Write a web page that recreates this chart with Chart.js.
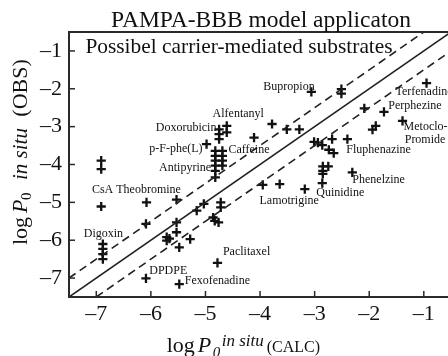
<!DOCTYPE html>
<html>
<head>
<meta charset="utf-8">
<script src="https://cdn.jsdelivr.net/npm/chart.js@4/dist/chart.umd.min.js"></script>
<style>
html,body{margin:0;padding:0;background:#fff;overflow:hidden;width:448px;height:356px;}
#wrap{width:458px;height:356px;}
</style>
</head>
<body>
<div id="wrap"><canvas id="c" width="458" height="356"></canvas></div>
<script>
// ---- data ----
const calcX = [-3.06,-2.51,-2.51,-0.95,-2.09,-1.73,-1.39,-1.94,-1.88,-3.78,-3.51,-3.28,-4.11,
  -3.01,-2.94,-2.86,-2.74,-2.65,-2.68,-2.40,-2.31,-2.85,-2.75,-2.85,-2.85,-2.86,-3.18,-3.64,-3.95,
  -4.61,-4.61,-4.75,-4.75,-4.75,-4.98,
  -4.82,-4.82,-4.82,-4.82,-4.82,-4.82,-4.69,-4.69,-4.69,-4.69,
  -6.91,-6.91,-6.91,-6.08,-5.53,-6.09,-5.53,-5.53,-5.16,-5.03,-4.72,-4.72,-4.86,-4.83,-4.76,
  -5.71,-5.71,-5.66,-5.48,-5.28,-6.88,-6.88,-6.88,-6.88,-6.09,-5.48,-4.78];
const obsY = [-2.08,-2.01,-2.13,-1.85,-2.52,-2.61,-2.85,-3.08,-2.98,-2.93,-3.07,-3.07,-3.29,
  -3.40,-3.42,-3.49,-3.61,-3.70,-3.33,-3.33,-4.21,-4.05,-4.05,-4.17,-4.25,-4.49,-4.65,-4.52,-4.54,
  -2.98,-3.15,-3.07,-3.20,-3.33,-3.46,
  -3.64,-3.77,-3.90,-4.03,-4.17,-4.34,-3.64,-3.77,-3.90,-4.03,
  -3.90,-4.12,-5.11,-5.00,-4.93,-5.57,-5.53,-5.79,-5.22,-5.04,-5.00,-5.13,-5.40,-5.49,-5.53,
  -5.92,-6.01,-5.96,-6.19,-5.97,-6.10,-6.23,-6.37,-6.50,-7.01,-7.16,-6.60];
// reference lines: identity and +/-0.5 log unit
const identX = [-7.5,-0.5], identY = [-7.5,-0.5];
const upperX = [-7.5,-1.0], upperY = [-7.0,-0.5];
const lowerX = [-7.0,-0.5], lowerY = [-7.5,-1.0];
const tickValues = [-7,-6,-5,-4,-3,-2,-1];
const tickLabels = ['\u20137','\u20136','\u20135','\u20134','\u20133','\u20132','\u20131'];
const labelText = ['Bupropion','Terfenadine','Perphezine','Metoclo-','Promide','Fluphenazine','Phenelzine',
  'Quinidine','Lamotrigine','Alfentanyl','Doxorubicin','p-F-phe(L)','Caffeine','Antipyrine',
  'CsA Theobromine','Digoxin','Paclitaxel','DPDPE','Fexofenadine'];
const labelX = [-3.94,-1.52,-1.65,-1.37,-1.35,-2.42,-2.31,-2.97,-4.01,-4.87,-5.91,-6.03,-4.58,-5.85,
  -7.08,-7.23,-4.68,-6.03,-5.38];
const labelY = [-1.96,-2.09,-2.45,-3.01,-3.36,-3.61,-4.40,-4.74,-4.96,-2.67,-3.02,-3.58,-3.61,-4.08,
  -4.67,-5.84,-6.32,-6.80,-7.07];
const chartTitle = 'PAMPA-BBB model applicaton';
const insideTitle = 'Possibel carrier-mediated substrates';

const pts = calcX.map((x,i)=>({x:x,y:obsY[i]}));
const mk = (xs,ys)=>xs.map((x,i)=>({x:x,y:ys[i]}));
const SERIF = '"Liberation Serif","DejaVu Serif",serif';

const deco = {
  id:'deco',
  afterDraw(chart){
    const ctx = chart.ctx, a = chart.chartArea, xs = chart.scales.x, ys = chart.scales.y;
    ctx.save();
    // frame
    ctx.strokeStyle = '#2a2a2a'; ctx.lineWidth = 2;
    ctx.strokeRect(a.left, a.top, a.right-a.left, a.bottom-a.top);
    // inward ticks
    ctx.lineWidth = 1.5;
    tickValues.forEach(v=>{
      const px = xs.getPixelForValue(v);
      ctx.beginPath(); ctx.moveTo(px, a.bottom); ctx.lineTo(px, a.bottom-6); ctx.stroke();
      const py = ys.getPixelForValue(v);
      ctx.beginPath(); ctx.moveTo(a.left, py); ctx.lineTo(a.left+6, py); ctx.stroke();
    });
    ctx.fillStyle = '#111';
    // title
    ctx.font = '23.5px '+SERIF; ctx.textAlign='center'; ctx.textBaseline='alphabetic';
    ctx.fillText(chartTitle, 261, 27);
    // inside title
    ctx.textAlign='left';
    ctx.font = '21.4px '+SERIF;
    ctx.fillText(insideTitle, xs.getPixelForValue(-7.2), ys.getPixelForValue(-0.88)+7);
    // annotations
    ctx.font = '12px '+SERIF; ctx.textBaseline='middle';
    labelText.forEach((t,i)=>{
      ctx.fillText(t, xs.getPixelForValue(labelX[i]), ys.getPixelForValue(labelY[i]));
    });
    // x axis label
    ctx.textBaseline='alphabetic';
    const L = a.left, base = 352;
    ctx.font = '22px '+SERIF; ctx.fillText('log', L+97.7, base);
    ctx.font = 'italic 22px '+SERIF; ctx.fillText('P', L+128.7, base);
    ctx.font = 'italic 15px '+SERIF; ctx.fillText('0', L+143.7, base+5);
    ctx.font = 'italic 17px '+SERIF; ctx.fillText('in situ', L+152.7, base-6);
    ctx.font = '16px '+SERIF; ctx.fillText('(CALC)', L+197.7, base);
    // y axis label
    ctx.translate(27, 245); ctx.rotate(-Math.PI/2);
    ctx.font = '22px '+SERIF; ctx.fillText('log', 0, 0);
    ctx.font = 'italic 22px '+SERIF; ctx.fillText('P', 32, 0);
    ctx.font = '15px '+SERIF; ctx.fillText('0', 45, 4);
    ctx.font = 'italic 21px '+SERIF; ctx.fillText('in situ', 65, 0);
    ctx.font = '22px '+SERIF; ctx.fillText('(OBS)', 128.3, 0);
    ctx.restore();
  }
};

const lineDs = (data,dash)=>({type:'scatter',data:data,showLine:true,pointRadius:0,borderColor:'#222',
  borderWidth:1.6,borderDash:dash,fill:false,clip:true});

new Chart(document.getElementById('c'),{
  type:'scatter',
  data:{datasets:[
    lineDs(mk(identX,identY),[]),
    lineDs(mk(upperX,upperY),[8,5]),
    lineDs(mk(lowerX,lowerY),[8,5]),
    {data:pts,pointStyle:'cross',pointRadius:4.6,pointBorderWidth:2.3,borderColor:'#111',backgroundColor:'#111',pointHoverRadius:4.6}
  ]},
  options:{
    responsive:false, devicePixelRatio:1, animation:false,
    layout:{padding:{top:32,right:2,left:0,bottom:0}},
    plugins:{legend:{display:false},tooltip:{enabled:false},title:{display:false}},
    scales:{
      x:{type:'linear',min:-7.5,max:-0.5,
        grid:{display:false,drawTicks:false},border:{display:false},
        afterBuildTicks:s=>{s.ticks=tickValues.map(v=>({value:v}));},
        afterFit:s=>{s.height=59;},
        ticks:{padding:4,color:'#111',font:{family:SERIF,size:22},callback:(v)=>tickLabels[tickValues.indexOf(v)]}},
      y:{type:'linear',min:-7.5,max:-0.5,
        grid:{display:false,drawTicks:false},border:{display:false},
        afterBuildTicks:s=>{s.ticks=tickValues.map(v=>({value:v}));},
        afterFit:s=>{s.width=69;},
        ticks:{padding:7,color:'#111',font:{family:SERIF,size:22},callback:(v)=>tickLabels[tickValues.indexOf(v)]}}
    }
  },
  plugins:[deco]
});
</script>
</body>
</html>
